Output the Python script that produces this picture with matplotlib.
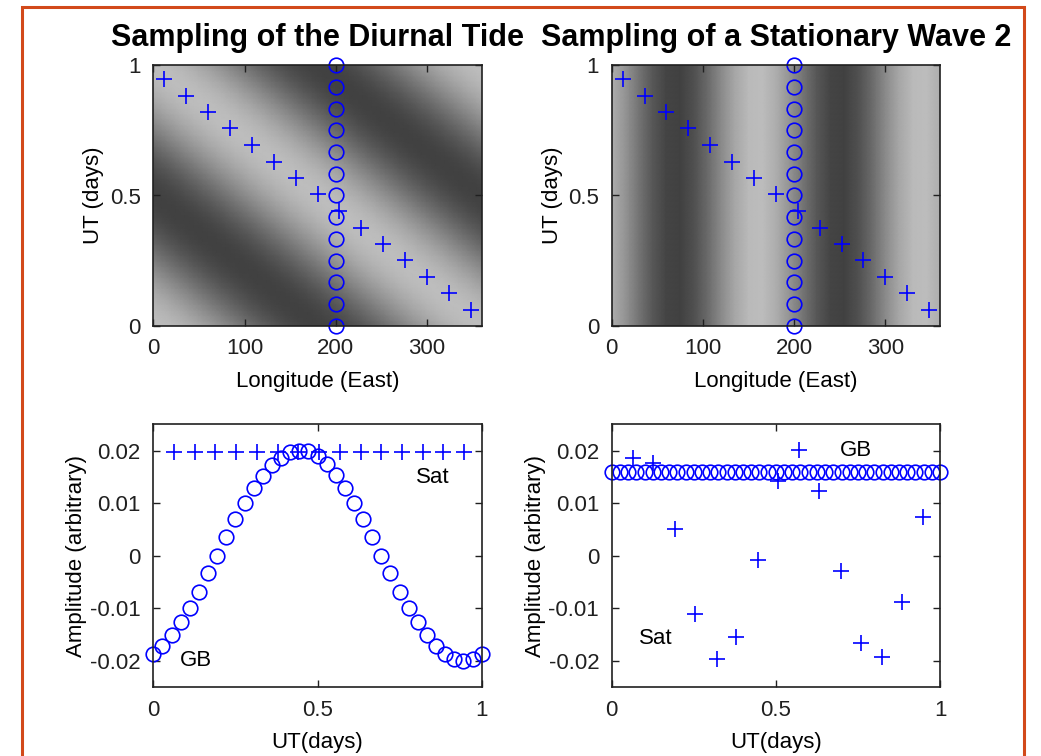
import numpy as np
import matplotlib
matplotlib.use("Agg")
import matplotlib.pyplot as plt
from matplotlib.colors import LinearSegmentedColormap
from matplotlib.patches import Rectangle

plt.rcParams['font.family'] = ['Liberation Sans', 'DejaVu Sans']
plt.rcParams['axes.unicode_minus'] = False

# ---------------- data ----------------
# satellite track (top panels): longitude and UT of the '+' samples
sat_lon = [12, 36, 60, 84, 108, 132, 156, 180, 204, 228, 252, 276, 300, 324, 348]
sat_ut = [0.946, 0.882, 0.819, 0.757, 0.693, 0.629, 0.566, 0.506,
          0.442, 0.377, 0.313, 0.253, 0.189, 0.125, 0.061]
# ground-based station (top panels): fixed longitude, UT samples
gb_lon = 200
gb_ut = [0.0, 0.083, 0.167, 0.25, 0.333, 0.417, 0.5, 0.583, 0.667, 0.75, 0.833, 0.917, 1.0]

# background field profiles
tide_phase = [0.0, 0.0417, 0.0833, 0.125, 0.1667, 0.2083, 0.25, 0.2917, 0.3333, 0.375,
              0.4167, 0.4583, 0.5, 0.5417, 0.5833, 0.625, 0.6667, 0.7083, 0.75, 0.7917,
              0.8333, 0.875, 0.9167, 0.9583, 1.0]
tide_profile = [0.02, 0.0193, 0.0173, 0.0141, 0.01, 0.0052, 0.0, -0.0052, -0.01, -0.0141,
                -0.0173, -0.0193, -0.02, -0.0193, -0.0173, -0.0141, -0.01, -0.0052, 0.0,
                0.0052, 0.01, 0.0141, 0.0173, 0.0193, 0.02]
wave_lon = [0, 15, 30, 45, 60, 75, 90, 105, 120, 135, 150, 165, 180, 195, 210, 225,
            240, 255, 270, 285, 300, 315, 330, 345, 360]
wave_profile = [0.0153, 0.0068, -0.0035, -0.0129, -0.0188, -0.0197, -0.0153, -0.0068,
                0.0035, 0.0129, 0.0188, 0.0197, 0.0153, 0.0068, -0.0035, -0.0129,
                -0.0188, -0.0197, -0.0153, -0.0068, 0.0035, 0.0129, 0.0188, 0.0197, 0.0153]

# bottom-left: diurnal tide samples
gb1_ut = [i / 36 for i in range(37)]
gb1_amp = [-0.0187, -0.0171, -0.0150, -0.0125, -0.0099, -0.0068, -0.0033, 0.0000,
           0.0035, 0.0070, 0.0100, 0.0128, 0.0151, 0.0172, 0.0186, 0.0197, 0.0200,
           0.0199, 0.0190, 0.0175, 0.0153, 0.0128, 0.0100, 0.0070, 0.0035, 0.0000,
           -0.0033, -0.0068, -0.0099, -0.0125, -0.0150, -0.0171, -0.0187, -0.0197,
           -0.0200, -0.0197, -0.0187]
sat1_ut = [0.063, 0.126, 0.189, 0.252, 0.316, 0.379, 0.442, 0.505,
           0.568, 0.631, 0.694, 0.757, 0.820, 0.883, 0.946]
sat1_amp = [0.0197] * 15

# bottom-right: stationary wave 2 samples
gb2_ut = [i / 40 for i in range(41)]
gb2_amp = [0.016] * 41
sat2_ut = [0.066, 0.127, 0.193, 0.254, 0.320, 0.379, 0.445, 0.506,
           0.572, 0.632, 0.697, 0.758, 0.824, 0.885, 0.949]
sat2_amp = [0.0185, 0.0177, 0.0051, -0.0110, -0.0196, -0.0154, -0.0008, 0.0142,
            0.0201, 0.0123, -0.0029, -0.0165, -0.0192, -0.0087, 0.0073]

titles = ["Sampling of the Diurnal Tide", "Sampling of a Stationary Wave 2"]

# ---------------- figure ----------------
W, H = 1041, 756
fig = plt.figure(figsize=(W / 100, H / 100), dpi=100)
fig.patch.set_facecolor('white')

def ax_px(x0, y0, x1, y1):
    return fig.add_axes([x0 / W, 1 - y1 / H, (x1 - x0) / W, (y1 - y0) / H])

ax_tl = ax_px(153.3, 65, 481.7, 326)
ax_tr = ax_px(611.7, 65, 940, 326)
ax_bl = ax_px(153.3, 424.3, 481.7, 687.3)
ax_br = ax_px(611.7, 424.3, 940, 687.3)

cmap = LinearSegmentedColormap.from_list('g', ['#414141', '#bdbdbd'])
blue = '#0000ff'
fs = 16

lon_g = np.linspace(0, 360, 73)
ut_g = np.linspace(0, 1, 49)
LON, UT = np.meshgrid(lon_g, ut_g)
tide_field = np.interp(np.mod(UT + LON / 360.0, 1.0), tide_phase, tide_profile)
wave_field = np.interp(LON, wave_lon, wave_profile)

for ax, field, title in [(ax_tl, tide_field, titles[0]), (ax_tr, wave_field, titles[1])]:
    ax.pcolormesh(LON, UT, field, cmap=cmap, vmin=-0.02, vmax=0.02, shading='gouraud')
    ax.plot(sat_lon, sat_ut, '+', color=blue, ms=12, mew=1.2, clip_on=False)
    ax.plot([gb_lon] * len(gb_ut), gb_ut, 'o', color=blue, mfc='none', ms=10.5, mew=1.2,
            clip_on=False)
    ax.set_xlim(0, 360)
    ax.set_ylim(0, 1)
    ax.set_xticks([0, 100, 200, 300])
    ax.set_yticks([0, 0.5, 1])
    ax.set_yticklabels(['0', '0.5', '1'])
    ax.set_xlabel('Longitude (East)', fontsize=fs, labelpad=8)
    ax.set_ylabel('UT (days)', fontsize=fs, labelpad=4)
    ax.set_title(title, fontsize=22, fontweight='bold', pad=14)

ax_bl.plot(gb1_ut, gb1_amp, 'o', color=blue, mfc='none', ms=10.5, mew=1.2, clip_on=False)
ax_bl.plot(sat1_ut, sat1_amp, '+', color=blue, ms=12, mew=1.2, clip_on=False)
ax_bl.text(0.80, 0.0149, 'Sat', fontsize=fs, va='center', ha='left')
ax_bl.text(0.082, -0.0200, 'GB', fontsize=fs, va='center', ha='left')

ax_br.plot(gb2_ut, gb2_amp, 'o', color=blue, mfc='none', ms=10.5, mew=1.2, clip_on=False)
ax_br.plot(sat2_ut, sat2_amp, '+', color=blue, ms=12, mew=1.2, clip_on=False)
ax_br.text(0.695, 0.0201, 'GB', fontsize=fs, va='center', ha='left')
ax_br.text(0.084, -0.0157, 'Sat', fontsize=fs, va='center', ha='left')

for ax in (ax_bl, ax_br):
    ax.set_xlim(0, 1)
    ax.set_ylim(-0.025, 0.025)
    ax.set_xticks([0, 0.5, 1])
    ax.set_xticklabels(['0', '0.5', '1'])
    ax.set_yticks([-0.02, -0.01, 0, 0.01, 0.02])
    ax.set_yticklabels(['-0.02', '-0.01', '0', '0.01', '0.02'])
    ax.set_xlabel('UT(days)', fontsize=fs, labelpad=8)
    ax.set_ylabel('Amplitude (arbitrary)', fontsize=fs, labelpad=2)

for ax in (ax_tl, ax_tr, ax_bl, ax_br):
    ax.tick_params(direction='in', length=5, width=1, top=True, right=True,
                   labelsize=fs, pad=9, colors='#202020')
    for s in ax.spines.values():
        s.set_linewidth(1.2)
        s.set_color('#202020')

# orange page frame
fig.patches.append(Rectangle((22 / W, -0.05), (1024 - 22) / W, 1.05 - 7.5 / H,
                             transform=fig.transFigure, fill=False,
                             edgecolor='#d2491a', linewidth=2.2))

fig.savefig('out.png', dpi=100, facecolor='white')
